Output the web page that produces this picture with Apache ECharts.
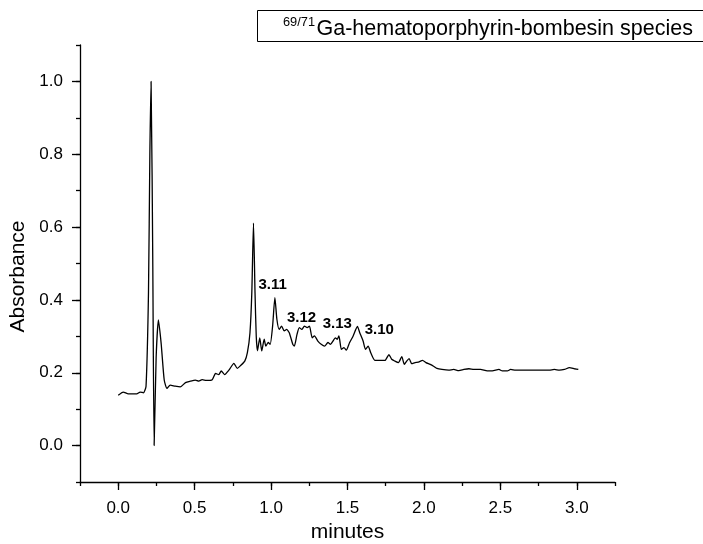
<!DOCTYPE html>
<html>
<head>
<meta charset="utf-8">
<script src="https://cdn.jsdelivr.net/npm/echarts@6/dist/echarts.min.js"></script>
<style>
    html, body { margin: 0; padding: 0; background: #fff; }
    #chart { width: 703px; height: 544px; }
</style>
</head>
<body>
<div id="chart"></div>
<script>
    // retention time (minutes) and absorbance
    var minutes = [
        0.00, 0.033, 0.066, 0.121, 0.143, 0.165, 0.182, 0.198, 0.207, 0.215, 0.226, 0.235, 0.248, 0.263, 0.281, 0.301,
        0.319, 0.340, 0.373, 0.406, 0.440, 0.472, 0.505, 0.527, 0.549, 0.577, 0.615, 0.637, 0.658, 0.674, 0.696, 0.724,
        0.757, 0.779, 0.801, 0.828, 0.845, 0.862, 0.874, 0.885, 0.895, 0.903, 0.911, 0.926, 0.939, 0.955, 0.966, 0.981,
        0.994, 1.010, 1.025, 1.038, 1.053, 1.069, 1.086, 1.102, 1.119, 1.142, 1.152, 1.170, 1.185, 1.201, 1.218, 1.236,
        1.251, 1.269, 1.284, 1.306, 1.328, 1.350, 1.372, 1.389, 1.405, 1.420, 1.433, 1.444, 1.460, 1.477, 1.492, 1.514,
        1.537, 1.565, 1.580, 1.602, 1.618, 1.635, 1.652, 1.679, 1.712, 1.745, 1.771, 1.789, 1.810, 1.833, 1.855, 1.872,
        1.887, 1.903, 1.920, 1.942, 1.964, 1.991, 2.013, 2.041, 2.063, 2.085, 2.118, 2.162, 2.195, 2.228, 2.261, 2.294,
        2.327, 2.370, 2.414, 2.447, 2.491, 2.513, 2.546, 2.567, 2.600, 2.664, 2.732, 2.820, 2.853, 2.886, 2.919, 2.952,
        2.985, 3.010
    ];
    var absorbance = [
        0.138, 0.147, 0.142, 0.142, 0.147, 0.145, 0.163, 0.420, 0.800, 1.000, 0.510, 0.000, 0.240, 0.345, 0.280, 0.180,
        0.157, 0.166, 0.163, 0.161, 0.173, 0.177, 0.180, 0.177, 0.181, 0.179, 0.181, 0.198, 0.195, 0.205, 0.195, 0.207,
        0.226, 0.212, 0.220, 0.232, 0.255, 0.310, 0.420, 0.611, 0.420, 0.300, 0.260, 0.296, 0.260, 0.292, 0.273, 0.283,
        0.278, 0.328, 0.406, 0.347, 0.319, 0.328, 0.315, 0.319, 0.310, 0.278, 0.273, 0.306, 0.324, 0.319, 0.328, 0.324,
        0.328, 0.296, 0.301, 0.287, 0.278, 0.273, 0.283, 0.278, 0.287, 0.296, 0.292, 0.301, 0.264, 0.269, 0.262, 0.283,
        0.301, 0.327, 0.310, 0.287, 0.264, 0.273, 0.255, 0.234, 0.234, 0.234, 0.250, 0.237, 0.232, 0.228, 0.244, 0.223,
        0.232, 0.239, 0.225, 0.228, 0.229, 0.234, 0.228, 0.223, 0.218, 0.212, 0.209, 0.207, 0.209, 0.206, 0.209, 0.211,
        0.209, 0.209, 0.205, 0.205, 0.209, 0.205, 0.205, 0.209, 0.207, 0.207, 0.207, 0.207, 0.209, 0.207, 0.209, 0.214,
        0.211, 0.209
    ];

    // peak annotations
    var peakNames = ['3.11', '3.12', '3.13', '3.10'];
    var peakX = [1.010, 1.199, 1.433, 1.708];
    var peakY = [0.440, 0.351, 0.333, 0.319];

    // tick labels
    var xTicks = [0.0, 0.5, 1.0, 1.5, 2.0, 2.5, 3.0];
    var yTicks = [0.0, 0.2, 0.4, 0.6, 0.8, 1.0];

    var FONT = 'Liberation Sans, Arial, Helvetica, sans-serif';

    var myChart = echarts.init(document.getElementById('chart'));

    var points = [];
    minutes.forEach(function (t, i) {
        points.push([t, absorbance[i]]);
    });

    var option = {
        backgroundColor: '#fff',
        animation: false,
        textStyle: { fontFamily: FONT },
        grid: { left: 80, right: 88, top: 45, bottom: 62, outerBoundsMode: 'none' },
        xAxis: [{
            type: 'value',
            min: -0.25,
            max: 3.25,
            interval: 0.25,
            name: 'minutes',
            nameLocation: 'middle',
            nameGap: 40,
            nameTextStyle: { fontSize: 21, color: '#000', fontFamily: FONT },
            axisLine: { onZero: false, lineStyle: { color: '#000', width: 1.3 } },
            axisTick: { inside: false, length: 4, lineStyle: { color: '#000', width: 1.3 } },
            axisLabel: {
                color: '#000',
                fontSize: 17,
                fontFamily: FONT,
                margin: 18,
                formatter: function (v) {
                    var hit = xTicks.some(function (t) { return Math.abs(t - v) < 1e-6; });
                    return hit ? v.toFixed(1) : '';
                }
            },
            splitLine: { show: false }
        }, {
            // long ticks on the labelled values
            type: 'value',
            min: -0.25,
            max: 3.25,
            position: 'bottom',
            axisLine: { show: false, onZero: false },
            axisTick: { inside: false, length: 8, customValues: xTicks, lineStyle: { color: '#000', width: 1.3 } },
            axisLabel: { show: false },
            splitLine: { show: false }
        }],
        yAxis: [{
            type: 'value',
            min: -0.1,
            max: 1.1,
            interval: 0.1,
            name: 'Absorbance',
            nameLocation: 'middle',
            nameGap: 47,
            nameTextStyle: { fontSize: 21, color: '#000', fontFamily: FONT, padding: [0, 26, 0, 0] },
            axisLine: { show: true, onZero: false, lineStyle: { color: '#000', width: 1.3 } },
            axisTick: { show: true, inside: false, length: 4, lineStyle: { color: '#000', width: 1.3 } },
            axisLabel: {
                color: '#000',
                fontSize: 17,
                fontFamily: FONT,
                margin: 17,
                formatter: function (v) {
                    var hit = yTicks.some(function (t) { return Math.abs(t - v) < 1e-6; });
                    return hit ? v.toFixed(1) : '';
                }
            },
            splitLine: { show: false }
        }, {
            type: 'value',
            min: -0.1,
            max: 1.1,
            position: 'left',
            axisLine: { show: false, onZero: false },
            axisTick: { show: true, inside: false, length: 8, customValues: yTicks, lineStyle: { color: '#000', width: 1.3 } },
            axisLabel: { show: false },
            splitLine: { show: false }
        }],
        series: [{
            name: 'trace',
            type: 'line',
            xAxisIndex: 0,
            yAxisIndex: 0,
            data: points,
            showSymbol: false,
            smooth: 0.2,
            lineStyle: { color: '#000', width: 1.3 },
            markPoint: {
                symbol: 'circle',
                symbolSize: 0,
                silent: true,
                label: {
                    show: true,
                    position: 'inside',
                    color: '#000',
                    fontSize: 15,
                    fontWeight: 'bold',
                    fontFamily: FONT,
                    formatter: function (p) { return p.name; }
                },
                data: peakNames.map(function (n, i) {
                    return { name: n, coord: [peakX[i], peakY[i]] };
                })
            }
        }],
        graphic: [{
            type: 'rect',
            shape: { x: 257.5, y: 10.5, width: 460, height: 31 },
            style: { fill: '#fff', stroke: '#000', lineWidth: 1 }
        }, {
            type: 'text',
            x: 283,
            y: 22.5,
            style: { text: '69/71', fontSize: 12.8, fill: '#000', fontFamily: FONT, verticalAlign: 'middle', align: 'left' }
        }, {
            type: 'text',
            x: 316.5,
            y: 29,
            style: { text: 'Ga-hematoporphyrin-bombesin species', fontSize: 21.5, fill: '#000', fontFamily: FONT, verticalAlign: 'middle', align: 'left' }
        }]
    };
    myChart.setOption(option);
</script>
</body>
</html>
